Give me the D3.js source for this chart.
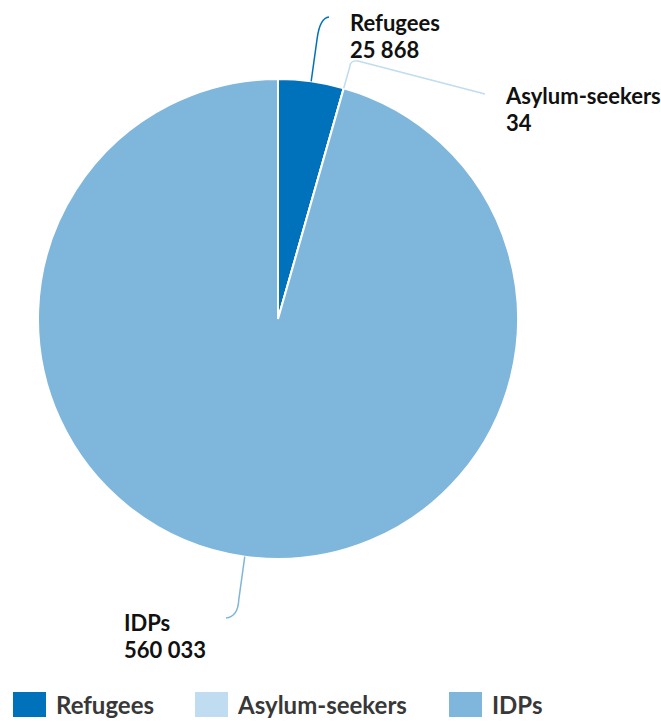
<!DOCTYPE html>
<html>
<head>
<meta charset="utf-8">
<script src="https://cdn.jsdelivr.net/npm/d3@7"></script>
<style>
  body { margin: 0; background: #fff; }
  text { font-family: Lato, "Open Sans", sans-serif; font-weight: bold; }
</style>
</head>
<body>
<div id="chart"></div>
<script>
var width = 661;
var height = 723;

// data
var categories = ["Refugees", "Asylum-seekers", "IDPs"];
var values = [25868, 34, 560033];
var valueLabels = ["25 868", "34", "560 033"];
var colors = ["#0072bc", "#bfdcf0", "#7fb6dc"];

var cx = 278, cy = 319, radius = 240;

var svg = d3.select("#chart")
  .append("svg")
  .attr("width", width)
  .attr("height", height);

var pie = d3.pie().sort(null).value(function(d) { return d; });
var arcs = pie(values);

var arc = d3.arc().innerRadius(0).outerRadius(radius);

var g = svg.append("g").attr("transform", "translate(" + cx + "," + cy + ")");

g.selectAll("path.slice")
  .data(arcs)
  .enter()
  .append("path")
  .attr("class", "slice")
  .attr("d", arc)
  .style("fill", function(d, i) { return colors[i]; })
  .style("stroke", "#fff")
  .style("stroke-width", 2);

// point on a ray from center at the slice's mid angle
function polar(a, r) { return [r * Math.sin(a), -r * Math.cos(a)]; }
function mid(d) { return (d.startAngle + d.endAngle) / 2; }

// leader line shapes: radial length, then bend to the label
var leaders = [
  { r: 284, ctrl: [320 - cx, 18 - cy], end: [329 - cx, 17 - cy], tail: null, lx: 350, ly: 31 },
  { r: 262, ctrl: [350 - cx, 60 - cy], end: [358 - cx, 61 - cy], tail: [485 - cx, 94 - cy], lx: 506, ly: 104 },
  { r: 283, ctrl: [238 - cx, 617 - cy], end: [226 - cx, 618 - cy], tail: null, lx: 124, ly: 631 }
];

arcs.forEach(function(d, i) {
  var L = leaders[i];
  var a = d.index === 1 ? d.startAngle : mid(d);
  var p0 = polar(a, radius);
  var p1 = polar(a, L.r);
  var s = "M" + p0 + "L" + p1 + "Q" + L.ctrl + " " + L.end;
  if (L.tail) s += "L" + L.tail;
  g.append("path")
    .attr("d", s)
    .style("fill", "none")
    .style("stroke", colors[i])
    .style("stroke-width", 1.5);

  var t = svg.append("text")
    .attr("x", L.lx)
    .attr("y", L.ly)
    .style("font-size", "22px")
    .style("fill", "#111");
  t.append("tspan").attr("x", L.lx).text(categories[i]);
  t.append("tspan").attr("x", L.lx).attr("dy", 27).text(valueLabels[i]);
});

// legend
var legendX = [13, 195, 449];
var legend = svg.append("g").attr("class", "legend");
categories.forEach(function(c, i) {
  legend.append("rect")
    .attr("x", legendX[i])
    .attr("y", 692)
    .attr("width", 33)
    .attr("height", 25)
    .style("fill", colors[i]);
  legend.append("text")
    .attr("x", legendX[i] + 43)
    .attr("y", 714)
    .style("font-size", "24px")
    .style("fill", "#383838")
    .text(c);
});
</script>
</body>
</html>
